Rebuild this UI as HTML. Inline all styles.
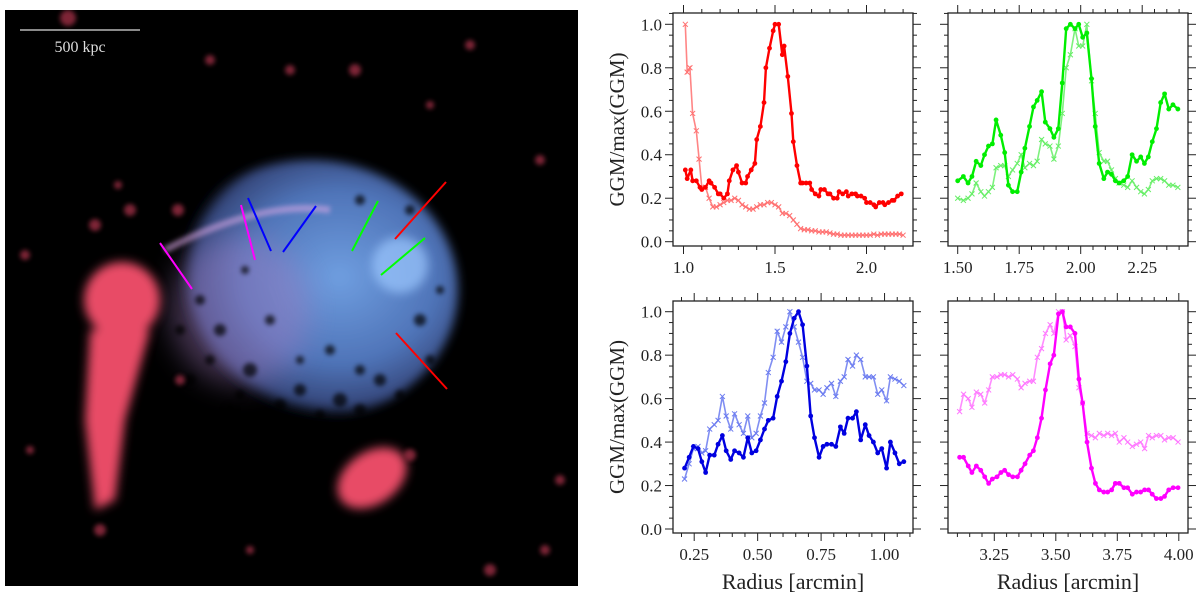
<!DOCTYPE html>
<html><head><meta charset="utf-8"><style>
body{margin:0;background:#fff;width:1200px;height:596px;overflow:hidden}
svg{display:block}
text{font-family:"Liberation Serif","DejaVu Serif",serif;fill:#222}
</style></head><body>
<svg id="fig" width="1200" height="596" viewBox="0 0 1200 596" font-family="Liberation Serif, DejaVu Serif, serif">
<defs>
<filter id="b6" x="-50%" y="-50%" width="200%" height="200%"><feGaussianBlur stdDeviation="5"/></filter>
<filter id="b3" x="-50%" y="-50%" width="200%" height="200%"><feGaussianBlur stdDeviation="2.5"/></filter>
<filter id="b12" x="-50%" y="-50%" width="200%" height="200%"><feGaussianBlur stdDeviation="14"/></filter>
<radialGradient id="cl" cx="0.6" cy="0.45" r="0.55"><stop offset="0" stop-color="#6f9ee0"/><stop offset="0.6" stop-color="#4f74b8"/><stop offset="0.9" stop-color="#35467a"/><stop offset="1" stop-color="#000" stop-opacity="0"/></radialGradient>
<clipPath id="imgclip"><rect x="5" y="10" width="573" height="576"/></clipPath>
</defs>
<g clip-path="url(#imgclip)">
<rect x="5" y="10" width="573" height="576" fill="#000"/>
<ellipse cx="310" cy="290" rx="148" ry="130" fill="url(#cl)" filter="url(#b6)"/>
<ellipse cx="240" cy="310" rx="70" ry="75" fill="#a77fc4" opacity="0.4" filter="url(#b12)"/>
<ellipse cx="400" cy="265" rx="28" ry="28" fill="#9cc8ff" opacity="0.7" filter="url(#b6)"/>
<path d="M165,250 Q260,200 330,210" stroke="#d9a8e6" stroke-width="7" fill="none" opacity="0.55" filter="url(#b3)"/>
<g fill="#000" opacity="0.7" filter="url(#b3)">
<circle cx="220" cy="330" r="6"/><circle cx="250" cy="370" r="7"/><circle cx="300" cy="390" r="6"/><circle cx="340" cy="400" r="7"/><circle cx="380" cy="380" r="6"/><circle cx="200" cy="300" r="5"/><circle cx="270" cy="320" r="5"/><circle cx="420" cy="320" r="6"/><circle cx="190" cy="380" r="6"/><circle cx="230" cy="410" r="6"/><circle cx="360" cy="200" r="5"/><circle cx="330" cy="350" r="5"/>
<circle cx="210" cy="360" r="5"/><circle cx="280" cy="405" r="6"/><circle cx="320" cy="415" r="5"/><circle cx="360" cy="410" r="6"/><circle cx="400" cy="395" r="5"/><circle cx="430" cy="360" r="5"/><circle cx="180" cy="330" r="5"/><circle cx="240" cy="395" r="5"/><circle cx="300" cy="360" r="4"/><circle cx="360" cy="370" r="5"/><circle cx="245" cy="270" r="4"/><circle cx="410" cy="210" r="5"/><circle cx="440" cy="290" r="4"/>
</g>
<g fill="#e84c66" filter="url(#b6)">
<ellipse cx="122" cy="300" rx="38" ry="38"/>
<path d="M90,330 L150,330 L125,420 L115,500 L95,510 L85,420 Z"/>
<ellipse cx="372" cy="478" rx="38" ry="26" transform="rotate(-35 372 478)"/>
</g>
<g fill="#a83048" opacity="0.75" filter="url(#b3)">
<circle cx="68" cy="18" r="8"/><circle cx="130" cy="210" r="6"/><circle cx="118" cy="185" r="4"/><circle cx="95" cy="225" r="6"/><circle cx="178" cy="210" r="6"/><circle cx="355" cy="70" r="6"/><circle cx="430" cy="105" r="4"/><circle cx="540" cy="160" r="5"/><circle cx="470" cy="45" r="5"/><circle cx="25" cy="255" r="5"/><circle cx="180" cy="380" r="5"/><circle cx="545" cy="550" r="5"/><circle cx="490" cy="570" r="6"/><circle cx="290" cy="70" r="5"/><circle cx="560" cy="480" r="5"/><circle cx="100" cy="530" r="6"/><circle cx="410" cy="455" r="6"/><circle cx="210" cy="60" r="5"/><circle cx="250" cy="550" r="4"/><circle cx="30" cy="450" r="4"/>
</g>
<g stroke-width="2">
<line x1="160" y1="243" x2="192" y2="289" stroke="#ff00ff"/>
<line x1="241" y1="205" x2="255" y2="260" stroke="#ff00ff"/>
<line x1="248" y1="198" x2="271" y2="251" stroke="#0000ff"/>
<line x1="316" y1="206" x2="283" y2="252" stroke="#0000ff"/>
<line x1="378" y1="201" x2="352" y2="251" stroke="#00ff00"/>
<line x1="425" y1="238" x2="381" y2="275" stroke="#00ff00"/>
<line x1="446" y1="182" x2="395" y2="239" stroke="#ff0000"/>
<line x1="396" y1="333" x2="447" y2="389" stroke="#ff0000"/>
</g>
<line x1="20" y1="30" x2="140" y2="30" stroke="#ddd" stroke-width="1.2"/>
<text x="80" y="52" text-anchor="middle" font-size="16" style="fill:#ddd">500 kpc</text>
</g>
<g id="charts"></g>
</svg>
<script>
// ---- data ----
const redX=[1.01,1.02,1.04,1.05,1.07,1.09,1.10,1.12,1.14,1.15,1.17,1.19,1.20,1.22,1.24,1.25,1.27,1.29,1.30,1.32,1.34,1.35,1.37,1.39,1.40,1.42,1.44,1.45,1.47,1.49,1.50,1.52,1.54,1.55,1.57,1.59,1.60,1.62,1.64,1.65,1.67,1.69,1.70,1.72,1.74,1.75,1.77,1.79,1.80,1.82,1.84,1.85,1.87,1.89,1.90,1.92,1.94,1.95,1.97,1.99,2.00,2.02,2.04,2.05,2.07,2.09,2.10,2.12,2.14,2.15,2.17,2.19];
const redY=[.33,.29,.33,.28,.28,.25,.24,.25,.28,.27,.25,.22,.22,.20,.22,.28,.33,.35,.32,.27,.27,.30,.33,.36,.47,.53,.64,.80,.89,.97,1.0,1.0,.86,.90,.76,.59,.46,.35,.27,.27,.27,.27,.24,.22,.21,.24,.24,.22,.22,.20,.20,.23,.22,.23,.21,.22,.22,.21,.21,.20,.18,.18,.17,.16,.18,.18,.17,.18,.19,.19,.21,.22];
const redLX=[1.01,1.02,1.035,1.05,1.07,1.085,1.10,1.12,1.14,1.16,1.18,1.20,1.22,1.24,1.26,1.28,1.30,1.32,1.34,1.36,1.38,1.40,1.42,1.44,1.46,1.48,1.50,1.52,1.54,1.56,1.58,1.60,1.62,1.64,1.66,1.68,1.70,1.72,1.74,1.76,1.78,1.80,1.82,1.84,1.86,1.88,1.90,1.92,1.94,1.96,1.98,2.00,2.02,2.04,2.06,2.08,2.10,2.12,2.14,2.16,2.18,2.20];
const redLY=[1.0,.78,.80,.59,.51,.38,.25,.25,.20,.16,.16,.17,.18,.19,.19,.20,.19,.17,.16,.15,.15,.16,.17,.17,.18,.18,.17,.16,.13,.13,.12,.10,.08,.06,.055,.055,.05,.05,.045,.045,.045,.04,.035,.035,.03,.03,.03,.03,.03,.03,.03,.03,.03,.035,.03,.035,.035,.035,.035,.035,.035,.03];
const grnX=[1.500,1.523,1.542,1.558,1.575,1.594,1.609,1.625,1.641,1.656,1.675,1.691,1.706,1.723,1.742,1.758,1.773,1.792,1.808,1.823,1.841,1.856,1.875,1.891,1.909,1.925,1.941,1.958,1.977,1.992,2.008,2.025,2.044,2.059,2.075,2.094,2.109,2.125,2.141,2.156,2.175,2.191,2.209,2.227,2.244,2.259,2.275,2.291,2.308,2.325,2.341,2.358,2.375,2.395];
const grnY=[.28,.30,.27,.30,.37,.35,.40,.44,.45,.56,.49,.41,.26,.23,.23,.32,.43,.53,.62,.65,.69,.55,.52,.48,.52,.73,.98,1.0,.98,1.0,.94,.96,.75,.53,.36,.29,.32,.31,.28,.27,.28,.30,.40,.37,.39,.36,.39,.46,.52,.64,.68,.61,.63,.61];
const grnLY=[.20,.19,.20,.22,.27,.23,.21,.23,.25,.34,.35,.35,.30,.33,.36,.40,.34,.36,.35,.37,.47,.45,.44,.38,.44,.59,.80,.86,.98,.90,.90,1.0,.74,.59,.41,.37,.37,.33,.29,.27,.26,.25,.28,.25,.23,.22,.24,.28,.29,.29,.28,.26,.26,.25];
const bluX=[0.212,0.230,0.247,0.265,0.280,0.295,0.311,0.329,0.344,0.361,0.376,0.394,0.409,0.427,0.444,0.461,0.477,0.494,0.511,0.527,0.542,0.561,0.577,0.594,0.611,0.627,0.644,0.661,0.677,0.694,0.709,0.724,0.742,0.758,0.773,0.791,0.808,0.826,0.841,0.856,0.874,0.889,0.906,0.924,0.939,0.956,0.973,0.989,1.008,1.023,1.041,1.058,1.076];
const bluY=[.28,.33,.38,.37,.31,.26,.34,.34,.39,.43,.36,.32,.36,.35,.33,.42,.35,.36,.41,.46,.50,.51,.61,.68,.77,.90,.97,1.0,.94,.75,.52,.42,.33,.38,.39,.39,.38,.47,.44,.51,.51,.54,.41,.48,.43,.40,.35,.37,.28,.40,.35,.30,.31];
const bluLY=[.23,.30,.37,.38,.35,.36,.46,.48,.50,.61,.52,.46,.53,.48,.44,.52,.42,.44,.52,.58,.72,.79,.91,.86,.93,1.0,.93,.86,.79,.68,.67,.64,.64,.62,.65,.67,.61,.68,.70,.78,.75,.80,.78,.70,.70,.70,.62,.64,.59,.70,.69,.68,.66];
const magX=[3.109,3.125,3.144,3.159,3.177,3.195,3.211,3.227,3.242,3.261,3.277,3.292,3.308,3.325,3.344,3.359,3.375,3.394,3.409,3.425,3.442,3.458,3.477,3.492,3.511,3.527,3.542,3.559,3.578,3.594,3.609,3.627,3.645,3.661,3.677,3.695,3.711,3.727,3.742,3.758,3.777,3.792,3.811,3.828,3.845,3.861,3.877,3.892,3.909,3.927,3.942,3.959,3.977,3.997];
const magY=[.33,.33,.29,.26,.29,.27,.24,.21,.23,.24,.26,.27,.25,.24,.24,.27,.30,.34,.36,.42,.51,.64,.76,.80,.99,1.0,.93,.93,.90,.69,.58,.40,.28,.21,.18,.17,.17,.18,.21,.21,.19,.19,.16,.17,.17,.18,.18,.16,.14,.14,.15,.18,.19,.19];
const magLY=[.54,.62,.60,.56,.63,.62,.58,.64,.70,.70,.71,.71,.70,.71,.69,.65,.67,.68,.68,.79,.83,.90,.94,.90,1.0,1.0,.87,.89,.84,.65,.58,.44,.43,.42,.44,.43,.44,.43,.44,.40,.42,.40,.38,.39,.40,.37,.43,.42,.43,.43,.41,.42,.42,.40];
const yTicks=[0.0,0.2,0.4,0.6,0.8,1.0];
const xTicks1=[1.0,1.5,2.0], xTicks2=[1.50,1.75,2.00,2.25], xTicks3=[0.25,0.50,0.75,1.00], xTicks4=[3.25,3.50,3.75,4.00];

const NS="http://www.w3.org/2000/svg";
const root=document.getElementById('charts');
function mk(tag,attrs,parent){const e=document.createElementNS(NS,tag);for(const k in attrs)e.setAttribute(k,attrs[k]);(parent||root).appendChild(e);return e;}

const panels=[
 {name:'red',fx0:673,fx1:913,fy0:13,fy1:246,xr:1.0,xp:683.5,sc:183,y0:241.7,y1:24.3,min:0.1,xmin:0.9,xmax:2.3,ticks:xTicks1,dec:1,ylab:true,xlab:false,col:'#ff0000',lcol:'#ff7070',sets:[[redLX,redLY],[redX,redY]]},
 {name:'green',fx0:948,fx1:1188,fy0:13,fy1:246,xr:1.5,xp:957.7,sc:246,y0:241.7,y1:24.3,min:0.05,xmin:1.45,xmax:2.45,ticks:xTicks2,dec:2,ylab:false,xlab:false,col:'#00ee00',lcol:'#66ee66',sets:[[grnX,grnLY],[grnX,grnY]]},
 {name:'blue',fx0:673,fx1:913,fy0:301,fy1:533,xr:0.25,xp:694.2,sc:253.8,y0:529,y1:311.7,min:0.05,xmin:0.15,xmax:1.15,ticks:xTicks3,dec:2,ylab:true,xlab:true,col:'#0000e0',lcol:'#6a7af0',sets:[[bluX,bluLY],[bluX,bluY]]},
 {name:'magenta',fx0:948,fx1:1188,fy0:301,fy1:533,xr:3.5,xp:1055.8,sc:246,y0:529,y1:311.7,min:0.05,xmin:3.0,xmax:4.1,ticks:xTicks4,dec:2,ylab:false,xlab:true,col:'#ff00ff',lcol:'#ff77ff',sets:[[magX,magLY],[magX,magY]]}
];
const FF='Liberation Serif, DejaVu Serif, serif';

panels.forEach(p=>{
 const g=mk('g',{});
 
 
 const X=v=>p.xp+(v-p.xr)*p.sc, Y=v=>p.y0+(p.y1-p.y0)*v;
 for(let i=0;i<=22;i++){const v=i*0.05; if(v>1.07)break; const y=Y(v); if(y<p.fy0||y>p.fy1)continue;
  const major=i%4===0, L=major?8:4;
  mk('line',{x1:p.fx0-L,y1:y,x2:p.fx0,y2:y,stroke:'#222','stroke-width':1},g);
  mk('line',{x1:p.fx1,y1:y,x2:p.fx1+L,y2:y,stroke:'#222','stroke-width':1},g);
 }
 if(p.ylab) yTicks.forEach(v=>{const t=mk('text',{x:p.fx0-11,y:Y(v)+6,'text-anchor':'end','font-size':17,'font-family':FF},g);t.textContent=v.toFixed(1);
  
  });
 const n0=Math.ceil(p.xmin/p.min-1e-6), n1=Math.floor(p.xmax/p.min+1e-6);
 for(let n=n0;n<=n1;n++){const v=n*p.min, x=X(v); if(x<p.fx0||x>p.fx1)continue;
  const major=p.ticks.some(t=>Math.abs(t-v)<1e-6), L=major?8:4;
  mk('line',{x1:x,y1:p.fy1,x2:x,y2:p.fy1+L,stroke:'#222','stroke-width':1},g);
  mk('line',{x1:x,y1:p.fy0-L,x2:x,y2:p.fy0,stroke:'#222','stroke-width':1},g);
 }
 p.ticks.forEach(v=>{const t=mk('text',{x:X(v),y:p.fy1+27,'text-anchor':'middle','font-size':17,'font-family':FF},g);t.textContent=v.toFixed(p.dec);
  
  });
 const fr=mk('rect',{x:p.fx0,y:p.fy0,width:p.fx1-p.fx0,height:p.fy1-p.fy0,fill:'none',stroke:'#222','stroke-width':1.3},g);
 
 
 const [lx,ly]=p.sets[0];
 const lpts=lx.map((x,i)=>X(x).toFixed(1)+','+Y(ly[i]).toFixed(1)).join(' ');
 const ll=mk('polyline',{points:lpts,fill:'none',stroke:p.lcol,'stroke-width':1.6,opacity:0.85},g);
 
 
 lx.forEach((x,i)=>{const cx=X(x),cy=Y(ly[i]);
  const m=mk('path',{d:`M${cx-2.5},${cy-2.5}L${cx+2.5},${cy+2.5}M${cx-2.5},${cy+2.5}L${cx+2.5},${cy-2.5}`,stroke:p.lcol,'stroke-width':1,fill:'none'},g);
  
  });
 const [dx,dy]=p.sets[1];
 const dpts=dx.map((x,i)=>X(x).toFixed(1)+','+Y(dy[i]).toFixed(1)).join(' ');
 const dl=mk('polyline',{points:dpts,fill:'none',stroke:p.col,'stroke-width':2.4,'stroke-linejoin':'round'},g);
 
 
 dx.forEach((x,i)=>{const c=mk('circle',{cx:X(x),cy:Y(dy[i]),r:2.4,fill:p.col},g);
  
  });
 if(p.ylab){const cy=(p.fy0+p.fy1)/2;const t=mk('text',{x:624,y:cy,'text-anchor':'middle','font-size':21,'font-family':FF,transform:`rotate(-90 624 ${cy})`},g);t.textContent='GGM/max(GGM)';
  
  }
 if(p.xlab){const t=mk('text',{x:(p.fx0+p.fx1)/2,y:589,'text-anchor':'middle','font-size':22,'font-family':FF},g);t.textContent='Radius [arcmin]';
  
  }
});
</script>
</body></html>
